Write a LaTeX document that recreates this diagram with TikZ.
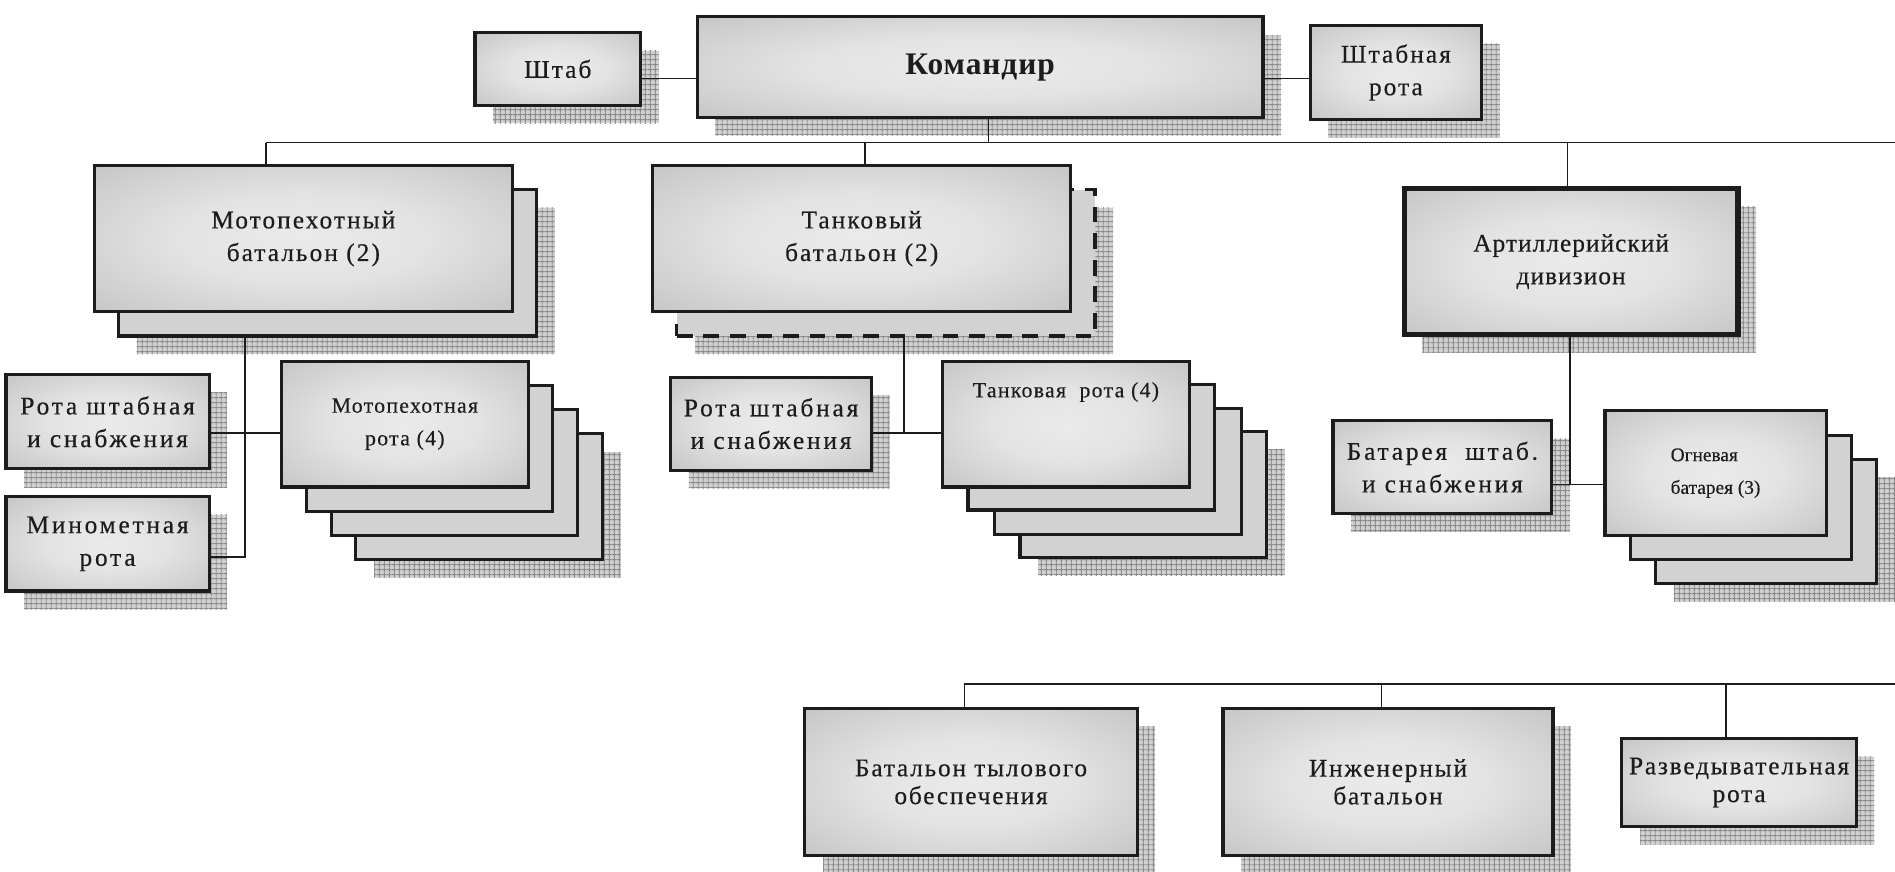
\documentclass[tikz,border=0pt]{standalone}
\usepackage{fontspec}
\setmainfont{Liberation Serif}
\newfontfamily\boxfont[FakeBold=0.4]{Liberation Serif}
\newfontfamily\widefont[LetterSpace=11,FakeBold=0.4]{Liberation Serif}
\newfontfamily\openfont[LetterSpace=8,FakeBold=0.4]{Liberation Serif}
\newfontfamily\lightfont[LetterSpace=4,FakeBold=0.4]{Liberation Serif}
\newfontfamily\smallfont[LetterSpace=6,FakeBold=0.3]{Liberation Serif}
\newfontfamily\lowfont[LetterSpace=7,FakeBold=0.4]{Liberation Serif}
\newfontfamily\headfont[LetterSpace=3]{Liberation Serif Bold}
\usetikzlibrary{patterns.meta}

\definecolor{inkcol}{HTML}{1C1C1C}
\definecolor{backfill}{HTML}{D2D2D2}
\definecolor{shadebase}{HTML}{D0D0D0}
\definecolor{shadegrid}{HTML}{8A8A8A}

% light centre, darker rim
\pgfdeclareradialshading{boxshade}{\pgfpoint{0bp}{0bp}}{%
  color(0bp)=(black!8); color(15bp)=(black!11); color(35bp)=(black!22); color(50bp)=(black!26)}

% fine grid used for the drop shadows
\tikzdeclarepattern{
  name=shgrid,
  type=uncolored,
  bounding box={(0pt,0pt) and (4pt,4pt)},
  tile size={(4pt,4pt)},
  code={\draw[line width=0.7pt] (0pt,2pt) -- (4pt,2pt) (2pt,0pt) -- (2pt,4pt);}
}

\tikzset{
  box/.style={draw=inkcol, line width=2.6pt, shade, shading=boxshade,
    align=center, text=inkcol, inner sep=1pt},
  backbox/.style={draw=inkcol, line width=2.6pt, fill=backfill},
  dashbox/.style={backbox, dash pattern=on 13pt off 9pt},
  shadowfill/.style={fill=shadebase, postaction={pattern=shgrid, pattern color=shadegrid}},
  conn/.style={draw=inkcol, line width=1.4pt},
  fbig/.style={font=\openfont\fontsize{21}{27}\selectfont},
  fmid/.style={font=\widefont\fontsize{21}{27}\selectfont},
  fplain/.style={font=\lightfont\fontsize{21}{27}\selectfont},
  fsmall/.style={font=\smallfont\fontsize{18}{27}\selectfont},
  flow/.style={font=\lowfont\fontsize{21}{23}\selectfont},
}

% [style]{name}{left}{top}{right}{bottom}{text}
\newcommand\orgnode[7][]{%
  \node[box,#1,minimum width={#5-#3},minimum height={#6-#4}] (#2) at ({(#3+#5)/2},{(#4+#6)/2}) {#7};}
% [style]{name}{left}{top}{right}{bottom}
\newcommand\layernode[6][backbox]{%
  \node[#1,minimum width={#5-#3},minimum height={#6-#4}] (#2) at ({(#3+#5)/2},{(#4+#6)/2}) {};}
\newcommand\dropshadow[4]{\path[shadowfill] ({#1+15},{#2+15}) rectangle ({#3+15},{#4+15});}

\begin{document}
\begin{tikzpicture}[x=1pt,y=-1pt]
\fill[white] (0,0) rectangle (1568,721);
\useasboundingbox (0,0) rectangle (1568,721);

% ---- command level
\dropshadow{393}{27}{530}{87}
\orgnode[fbig]{shtab}{393}{27}{530}{87}{Штаб}
\dropshadow{577}{14}{1045}{97}
\orgnode[font=\headfont\fontsize{26}{30}\selectfont]{cmd}{577}{14}{1045}{97}{Командир}
\dropshadow{1084}{21}{1226}{99}
\orgnode[fbig]{shtrota}{1084}{21}{1226}{99}{Штабная\\рота}

% ---- motor rifle battalion
\dropshadow{98}{157}{444}{278}
\layernode{mpbat-2}{98}{157}{444}{278}
\orgnode[fbig]{mpbat}{78}{137}{424}{258}{Мотопехотный\\батальон (2)}

\dropshadow{5}{310}{173}{388}
\orgnode[fmid]{rsh1}{5}{310}{173}{388}{Рота штабная\\и снабжения}
\dropshadow{5}{411}{173}{489}
\orgnode[fmid]{minomet}{5}{411}{173}{489}{Минометная\\рота}

\dropshadow{294.5}{359}{498.5}{463}
\layernode{mprota-4}{294.5}{359}{498.5}{463}
\layernode{mprota-3}{274}{339}{478}{443}
\layernode{mprota-2}{253.5}{319}{457.5}{423}
\orgnode[fsmall]{mprota}{233}{299}{437}{403}{Мотопехотная\\рота (4)}

% ---- tank battalion
\dropshadow{560}{157}{906}{278}
\layernode[dashbox]{tkbat-2}{560}{157}{906}{278}
\orgnode[fbig]{tkbat}{540}{137}{886}{258}{Танковый\\батальон (2)}

\dropshadow{555}{312}{721}{389}
\orgnode[fmid]{rsh2}{555}{312}{721}{389}{Рота штабная\\и снабжения}

\dropshadow{844}{357}{1048}{461}
\layernode{tkrota-4}{844}{357}{1048}{461}
\layernode{tkrota-3}{823}{338}{1027}{442}
\layernode{tkrota-2}{801}{318}{1005}{422}
\orgnode[fsmall]{tkrota}{780}{299}{984}{403}{Танковая\ \ рота (4)\\[30pt]\mbox{}}

% ---- artillery battalion
\dropshadow{1162}{156}{1438}{277}
\orgnode[fplain,line width=4.4pt]{artdiv}{1162}{156}{1438}{277}{Артиллерийский\\дивизион}

\dropshadow{1103}{348}{1284}{425}
\orgnode[fmid]{battery}{1103}{348}{1284}{425}{Батарея\ \ штаб.\\и снабжения}

\dropshadow{1370}{380}{1553}{483}
\layernode{fire-3}{1370}{380}{1553}{483}
\layernode{fire-2}{1349}{360}{1532}{463}
\orgnode[font=\boxfont\fontsize{16}{27}\selectfont,align=left]{fire}{1328}{340}{1511}{443}{Огневая\\батарея (3)}

% ---- support units
\dropshadow{666}{586}{941}{708}
\orgnode[flow]{tyl}{666}{586}{941}{708}{Батальон тылового\\обеспечения}
\dropshadow{1012}{586}{1285}{708}
\orgnode[flow]{eng}{1012}{586}{1285}{708}{Инженерный\\батальон}
\dropshadow{1342}{611}{1536}{684}
\orgnode[flow]{recon}{1342}{611}{1536}{684}{Разведывательная\\рота}

% ---- connectors
\coordinate (ylink) at (0,65);
\draw[conn] (shtab.east |- ylink) -- (cmd.west |- ylink);
\draw[conn] (cmd.east |- ylink) -- (shtrota.west |- ylink);

\coordinate (bus1L) at (220,118);
\coordinate (bus1R) at (1568,118);
\coordinate (c1) at (818,118);
\coordinate (t1) at (716,118);
\coordinate (a1) at (1297,118);
\draw[conn] (bus1L) -- (bus1R);
\draw[conn] (cmd.south -| c1) -- (c1);
\draw[conn] (bus1L) -- (mpbat.north -| bus1L);
\draw[conn] (t1) -- (tkbat.north -| t1);
\draw[conn] (a1) -- (artdiv.north -| a1);

\coordinate (m1) at (203,461);
\coordinate (m2) at (0,358);
\draw[conn] (mpbat-2.south -| m1) -- (m1) -- (minomet.east |- m1);
\draw[conn] (rsh1.east |- m2) -- (mprota.west |- m2);

\coordinate (k1) at (748,358);
\draw[conn] (tkbat-2.south -| k1) -- (k1);
\draw[conn] (rsh2.east |- k1) -- (tkrota.west |- k1);

\coordinate (r1) at (1299,401);
\draw[conn] (artdiv.south -| r1) -- (r1);
\draw[conn] (battery.east |- r1) -- (fire.west |- r1);

\coordinate (bus2L) at (798,566);
\coordinate (bus2R) at (1568,566);
\coordinate (b2) at (1143,566);
\coordinate (b3) at (1428,566);
\draw[conn] (bus2L) -- (bus2R);
\draw[conn] (bus2L) -- (tyl.north -| bus2L);
\draw[conn] (b2) -- (eng.north -| b2);
\draw[conn] (b3) -- (recon.north -| b3);
\end{tikzpicture}
\end{document}
